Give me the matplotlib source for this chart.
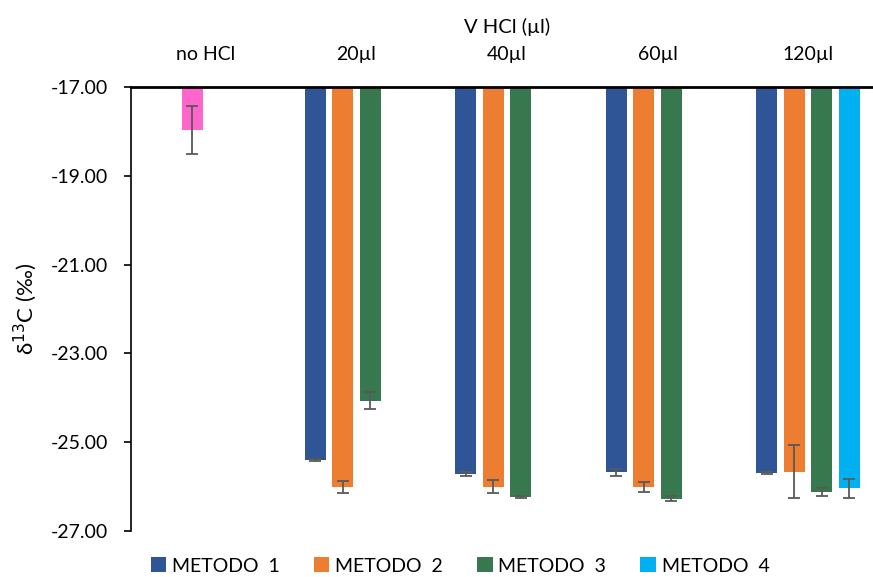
import numpy as np
import matplotlib
matplotlib.use("Agg")
import matplotlib.pyplot as plt
from matplotlib.patches import Patch

plt.rcParams['font.family'] = ['Lato', 'DejaVu Sans']

# categorie (volume di HCl) e serie
categories = ['no HCl', '20µl', '40µl', '60µl', '120µl']
series = ['METODO  1', 'METODO  2', 'METODO  3', 'METODO  4']
colors = ['#2F5597', '#ED7D31', '#38784F', '#00B0F0']
nan = np.nan

# δ13C medio (‰) e deviazione standard per ogni metodo
m1 = [nan, -25.40, -25.72, -25.68, -25.70]
m1_err = [nan, 0.02, 0.04, 0.07, 0.02]
m2 = [-17.97, -26.01, -26.00, -26.01, -25.66]
m2_err = [0.55, 0.14, 0.14, 0.12, 0.60]
m3 = [nan, -24.07, -26.24, -26.27, -26.13]
m3_err = [nan, 0.19, 0.02, 0.06, 0.09]
m4 = [nan, nan, nan, nan, -26.04]
m4_err = [nan, nan, nan, nan, 0.21]

values = [m1, m2, m3, m4]
errors = [m1_err, m2_err, m3_err, m4_err]
base = -17.0
pink = '#FF66CC'

fig = plt.figure(figsize=(8.73, 5.77), dpi=100)
ax = fig.add_axes([130.7 / 873, 1 - 531 / 577, 752.5 / 873, 444 / 577])

x = np.arange(len(categories))
slot = 0.1827
width = 0.14
for i, (vals, errs) in enumerate(zip(values, errors)):
    pos = x + (i - 1.5) * slot
    vals = np.array(vals)
    bar_colors = [colors[i]] * len(x)
    if i == 1:
        bar_colors[0] = pink  # campione senza HCl
    ax.bar(pos, vals - base, bottom=base, width=width, color=bar_colors,
           edgecolor='none', zorder=2)
    ax.errorbar(pos, vals, yerr=errs, fmt='none', ecolor='#595959',
                elinewidth=1.3, capsize=4.3, capthick=1.3, zorder=3)

ax.set_xlim(-0.5, len(categories) - 0.5)
ax.set_ylim(-27, -17)
ax.set_yticks(np.arange(-27, -16, 2))
ax.set_yticklabels([f'{v:.2f}' for v in np.arange(-27, -16, 2)])
ax.tick_params(axis='y', direction='out', length=5, width=1.2,
               pad=11, labelsize=14)

ax.xaxis.tick_top()
ax.xaxis.set_label_position('top')
ax.set_xticks(x)
ax.set_xticklabels(categories)
ax.tick_params(axis='x', length=0, pad=17, labelsize=14)
ax.set_xlabel('V HCl (µl)', fontsize=14.5, labelpad=10)

ax.set_ylabel(r'δ$^{13}$C (‰)', fontsize=16, labelpad=9)

for side in ['right', 'bottom']:
    ax.spines[side].set_visible(False)
ax.spines['top'].set_linewidth(2)
ax.spines['left'].set_linewidth(1.2)
ax.spines['top'].set_zorder(4)

handles = [Patch(facecolor=c, label=s) for c, s in zip(colors, series)]
fig.legend(handles=handles, loc='center', bbox_to_anchor=(460 / 873, 1 - 566 / 577),
           ncol=4, frameon=False, fontsize=14, handlelength=0.8, handleheight=0.8,
           handletextpad=0.3, columnspacing=1.75)

fig.savefig('out.png', dpi=100)
